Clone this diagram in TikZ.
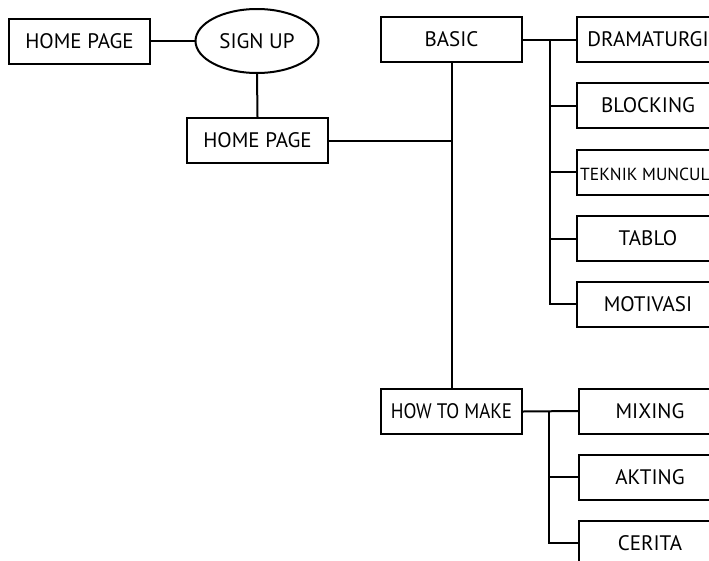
\documentclass[tikz,border=0pt]{standalone}
\usepackage{fontspec}
\setmainfont{PT Sans}
\newfontfamily\narrowfont[FakeStretch=0.9]{PT Sans}
\usetikzlibrary{shapes.geometric}
\begin{document}
\begin{tikzpicture}[x=1pt,y=-1pt,
  box/.style={draw, line width=2pt, rectangle, minimum width=141pt, minimum height=45pt, inner sep=0pt, font=\fontsize{21}{21}\selectfont},
  oval/.style={draw, line width=2pt, ellipse, minimum width=123pt, minimum height=64pt, inner sep=0pt, font=\fontsize{21}{21}\selectfont},
  conn/.style={line width=2pt}]
\useasboundingbox (0,0) rectangle (709,560);
\clip (0,0) rectangle (709,560);
\node[box] (hp1) at (79.5,41) {HOME PAGE};
\node[oval] (su) at (257,41) {SIGN UP};
\node[box] (hp2) at (257.5,140.5) {HOME PAGE};
\node[box] (basic) at (451.5,39.5) {BASIC};
\node[box, font=\narrowfont\fontsize{21}{21}\selectfont] (how) at (451.5,411.5) {HOW TO MAKE};
\node[box, minimum width=142pt] (dra) at (648,39.5) {DRAMATURGI};
\node[box, minimum width=142pt] (blo) at (648,105.5) {BLOCKING};
\node[box, minimum width=142pt] (tek) at (648,172) {};
\node[anchor=west, inner sep=0pt, font=\fontsize{17.5}{17.5}\selectfont] (tekt) at (580,174) {TEKNIK MUNCUL};
\node[box, minimum width=142pt] (tab) at (648,238.5) {TABLO};
\node[box, minimum width=142pt] (mot) at (648,304) {MOTIVASI};
\node[box, minimum width=142pt] (mix) at (650,411) {MIXING};
\node[box, minimum width=142pt] (akt) at (650,477) {AKTING};
\node[box, minimum width=142pt] (cer) at (650,543) {CERITA};
\coordinate (b1) at (550,39.5);
\coordinate (b2) at (549,411);
\draw[conn] (hp1.east) -- (su.west);
\draw[conn] (su.south) -- (hp2.north);
\draw[conn] (basic.south) -- (how.north);
\draw[conn] (hp2.east) -- (basic.south |- hp2.east);
\draw[conn] (basic.east) -- (dra.west);
\draw[conn] (b1) -- (b1 |- mot.west) -- (mot.west);
\draw[conn] (b1 |- blo.west) -- (blo.west);
\draw[conn] (b1 |- tek.west) -- (tek.west);
\draw[conn] (b1 |- tab.west) -- (tab.west);
\draw[conn] (how.east) -- (mix.west);
\draw[conn] (b2) -- (b2 |- cer.west) -- (cer.west);
\draw[conn] (b2 |- akt.west) -- (akt.west);
\end{tikzpicture}
\end{document}
